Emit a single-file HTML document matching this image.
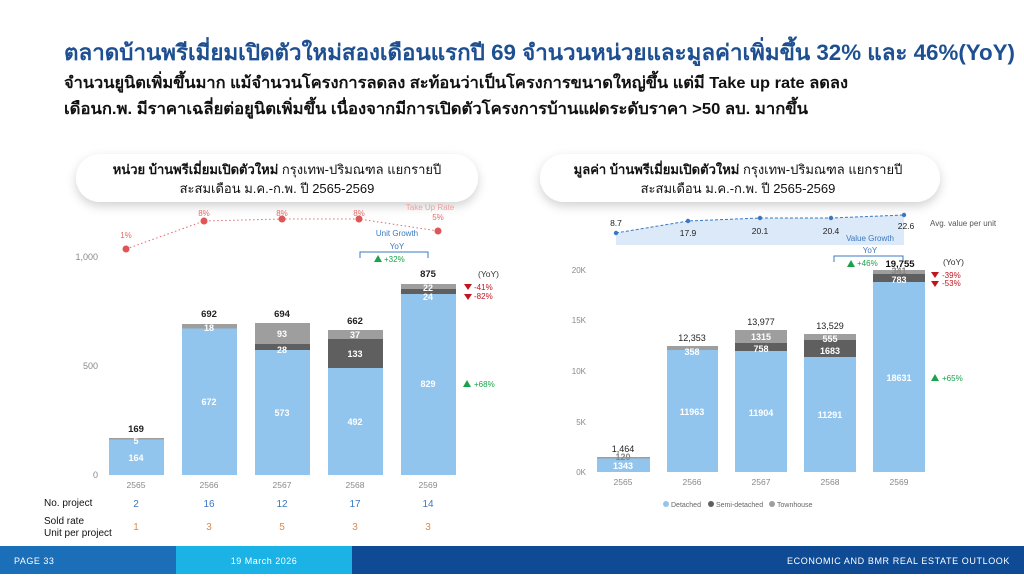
<!DOCTYPE html><html><head><meta charset="utf-8"><style>
body{margin:0;width:1024px;height:574px;overflow:hidden;background:#fff;font-family:"Liberation Sans","DejaVu Sans",sans-serif}
</style></head><body>
<svg width="1024" height="574" viewBox="0 0 1024 574" xmlns="http://www.w3.org/2000/svg" font-family="Liberation Sans, DejaVu Sans, sans-serif">
<defs><filter id="sh" x="-10%" y="-30%" width="120%" height="180%"><feDropShadow dx="0" dy="4" stdDeviation="5" flood-color="#000" flood-opacity="0.18"/></filter></defs>
<text x="64" y="60" font-size="22" fill="#1d4f91" font-weight="bold" textLength="951" lengthAdjust="spacingAndGlyphs">ตลาดบ้านพรีเมี่ยมเปิดตัวใหม่สองเดือนแรกปี 69 จำนวนหน่วยและมูลค่าเพิ่มขึ้น 32% และ 46%(YoY)</text>
<text x="64" y="88" font-size="16" fill="#111" font-weight="bold" textLength="784" lengthAdjust="spacingAndGlyphs">จำนวนยูนิตเพิ่มขึ้นมาก แม้จำนวนโครงการลดลง สะท้อนว่าเป็นโครงการขนาดใหญ่ขึ้น แต่มี Take up rate ลดลง</text>
<text x="64" y="114" font-size="16" fill="#111" font-weight="bold" textLength="744" lengthAdjust="spacingAndGlyphs">เดือนก.พ. มีราคาเฉลี่ยต่อยูนิตเพิ่มขึ้น เนื่องจากมีการเปิดตัวโครงการบ้านแฝดระดับราคา &gt;50 ลบ. มากขึ้น</text>

<rect x="76" y="154" width="402" height="48" rx="24" fill="#fff" filter="url(#sh)"/>
<text x="277" y="174" font-size="13" text-anchor="middle" fill="#111"><tspan font-weight="bold">หน่วย บ้านพรีเมี่ยมเปิดตัวใหม่</tspan> กรุงเทพ-ปริมณฑล แยกรายปี</text>
<text x="277" y="193" font-size="13" text-anchor="middle" fill="#111">สะสมเดือน ม.ค.-ก.พ. ปี 2565-2569</text>
<rect x="540" y="154" width="400" height="48" rx="24" fill="#fff" filter="url(#sh)"/>
<text x="738" y="174" font-size="13" text-anchor="middle" fill="#111"><tspan font-weight="bold">มูลค่า บ้านพรีเมี่ยมเปิดตัวใหม่</tspan> กรุงเทพ-ปริมณฑล แยกรายปี</text>
<text x="738" y="193" font-size="13" text-anchor="middle" fill="#111">สะสมเดือน ม.ค.-ก.พ. ปี 2565-2569</text>

<g font-size="9" fill="#888" text-anchor="end"><text x="98" y="260">1,000</text><text x="98" y="369">500</text><text x="98" y="478">0</text></g>
<polyline points="126,249 204,221 282,219 359,219 438,231" fill="none" stroke="#e36a6a" stroke-dasharray="1.5,2.5" stroke-width="1"/>
<g fill="#e05555"><circle cx="126" cy="249" r="3.5"/><circle cx="204" cy="221" r="3.5"/><circle cx="282" cy="219" r="3.5"/><circle cx="359" cy="219" r="3.5"/><circle cx="438" cy="231" r="3.5"/></g>
<g font-size="8" fill="#e36a6a" text-anchor="middle"><text x="126" y="238">1%</text><text x="204" y="216">8%</text><text x="282" y="216">8%</text><text x="359" y="216">8%</text><text x="438" y="220">5%</text><text x="430" y="210" fill="#eea0a0">Take Up Rate</text></g>
<text x="397" y="236" font-size="8" fill="#3a78c0" text-anchor="middle">Unit Growth</text>
<text x="397" y="249" font-size="8" fill="#3a78c0" text-anchor="middle">YoY</text>
<path d="M360,258 V252 H428 V258" fill="none" stroke="#3a78c0" stroke-width="1"/>
<polygon points="374,262 378,255 382,262" fill="#1aa34a"/><text x="384" y="262" font-size="8" fill="#1aa34a">+32%</text>

<g>
<rect x="109" y="438" width="55" height="37" fill="#92c5ee"/><rect x="109" y="438" width="55" height="1.5" fill="#9e9e9e"/>
<rect x="182" y="328" width="55" height="147" fill="#92c5ee"/><rect x="182" y="324" width="55" height="4.5" fill="#9e9e9e"/>
<rect x="255" y="350" width="55" height="125" fill="#92c5ee"/><rect x="255" y="344" width="55" height="6" fill="#5f5f5f"/><rect x="255" y="323" width="55" height="21" fill="#9e9e9e"/>
<rect x="328" y="368" width="55" height="107" fill="#92c5ee"/><rect x="328" y="339" width="55" height="29" fill="#5f5f5f"/><rect x="328" y="330" width="55" height="9" fill="#9e9e9e"/>
<rect x="401" y="294" width="55" height="181" fill="#92c5ee"/><rect x="401" y="289" width="55" height="5" fill="#5f5f5f"/><rect x="401" y="284" width="55" height="5" fill="#9e9e9e"/>
</g>
<g font-size="9" fill="#fff" text-anchor="middle" font-weight="bold">
<text x="136" y="461">164</text><text x="136" y="444">5</text>
<text x="209" y="405">672</text><text x="209" y="331">18</text>
<text x="282" y="416">573</text><text x="282" y="353">28</text><text x="282" y="337">93</text>
<text x="355" y="425">492</text><text x="355" y="357">133</text><text x="355" y="338">37</text>
<text x="428" y="387">829</text><text x="428" y="300">24</text><text x="428" y="291">22</text>
</g>
<g font-size="9.5" fill="#222" text-anchor="middle" font-weight="bold">
<text x="136" y="432">169</text><text x="209" y="317">692</text><text x="282" y="317">694</text><text x="355" y="324">662</text><text x="428" y="277">875</text></g>
<text x="478" y="277" font-size="8.5" fill="#333">(YoY)</text>
<polygon points="464,284 472,284 468,290" fill="#c0141e"/><text x="474" y="290" font-size="8" fill="#c0141e">-41%</text>
<polygon points="464,294 472,294 468,300" fill="#c0141e"/><text x="474" y="299" font-size="8" fill="#c0141e">-82%</text>
<polygon points="463,387 467,380 471,387" fill="#1aa34a"/><text x="474" y="387" font-size="8" fill="#1aa34a">+68%</text>
<g font-size="8.5" fill="#888" text-anchor="middle"><text x="136" y="488">2565</text><text x="209" y="488">2566</text><text x="282" y="488">2567</text><text x="355" y="488">2568</text><text x="428" y="488">2569</text></g>
<text x="44" y="506" font-size="10" fill="#111">No. project</text>
<text x="44" y="524" font-size="10" fill="#111">Sold rate</text><text x="44" y="536" font-size="10" fill="#111">Unit per project</text>
<g font-size="10" fill="#3a78c0" text-anchor="middle"><text x="136" y="507">2</text><text x="209" y="507">16</text><text x="282" y="507">12</text><text x="355" y="507">17</text><text x="428" y="507">14</text></g>
<g font-size="10" fill="#e08a4a" text-anchor="middle"><text x="136" y="530">1</text><text x="209" y="530">3</text><text x="282" y="530">5</text><text x="355" y="530">3</text><text x="428" y="530">3</text></g>

<polygon points="616,233 688,221 760,218 831,218 904,215 904,245 616,245" fill="#dce9f8"/>
<polyline points="616,233 688,221 760,218 831,218 904,215" fill="none" stroke="#3a78c0" stroke-dasharray="3,2" stroke-width="1"/>
<g fill="#3a78c0"><circle cx="616" cy="233" r="2.2"/><circle cx="688" cy="221" r="2.2"/><circle cx="760" cy="218" r="2.2"/><circle cx="831" cy="218" r="2.2"/><circle cx="904" cy="215" r="2.2"/></g>
<g font-size="8.5" fill="#222" text-anchor="middle"><text x="616" y="226">8.7</text><text x="688" y="236">17.9</text><text x="760" y="234">20.1</text><text x="831" y="234">20.4</text><text x="906" y="229">22.6</text></g>
<text x="930" y="226" font-size="8" fill="#555">Avg. value per unit</text>
<text x="870" y="241" font-size="8" fill="#3a78c0" text-anchor="middle">Value Growth</text>
<text x="870" y="253" font-size="8" fill="#3a78c0" text-anchor="middle">YoY</text>
<path d="M834,262 V256 H903 V262" fill="none" stroke="#3a78c0" stroke-width="1"/>
<polygon points="847,267 851,260 855,267" fill="#1aa34a"/><text x="857" y="266" font-size="8" fill="#1aa34a">+46%</text>
<text x="900" y="267" font-size="9.5" fill="#111" font-weight="bold" text-anchor="middle">19,755</text>
<g font-size="8" fill="#888" text-anchor="end"><text x="586" y="273">20K</text><text x="586" y="323">15K</text><text x="586" y="374">10K</text><text x="586" y="425">5K</text><text x="586" y="475">0K</text></g>
<rect x="597" y="458" width="53" height="14" fill="#92c5ee"/><rect x="597" y="457" width="53" height="1.5" fill="#9e9e9e"/>
<rect x="667" y="350" width="51" height="122" fill="#92c5ee"/><rect x="667" y="346" width="51" height="4" fill="#9e9e9e"/>
<rect x="735" y="351" width="52" height="121" fill="#92c5ee"/><rect x="735" y="343" width="52" height="8" fill="#5f5f5f"/><rect x="735" y="330" width="52" height="13" fill="#9e9e9e"/>
<rect x="804" y="357" width="52" height="115" fill="#92c5ee"/><rect x="804" y="340" width="52" height="17" fill="#5f5f5f"/><rect x="804" y="334" width="52" height="6" fill="#9e9e9e"/>
<rect x="873" y="282" width="52" height="190" fill="#92c5ee"/><rect x="873" y="274" width="52" height="8" fill="#5f5f5f"/><rect x="873" y="270" width="52" height="4" fill="#9e9e9e"/>
<g font-size="9" fill="#fff" text-anchor="middle" font-weight="bold">
<text x="623" y="469">1343</text><text x="623" y="460" fill="#888">120</text>
<text x="692" y="415">11963</text><text x="692" y="355">358</text>
<text x="761" y="416">11904</text><text x="761" y="352">758</text><text x="761" y="340">1315</text>
<text x="830" y="418">11291</text><text x="830" y="354">1683</text><text x="830" y="342">555</text>
<text x="899" y="381">18631</text><text x="899" y="283">783</text><text x="899" y="274" fill="#888">341</text>
</g>
<g font-size="9" fill="#222" text-anchor="middle"><text x="623" y="452">1,464</text><text x="692" y="341">12,353</text><text x="761" y="325">13,977</text><text x="830" y="329">13,529</text></g>
<text x="943" y="265" font-size="8.5" fill="#333">(YoY)</text>
<polygon points="931,272 939,272 935,278" fill="#c0141e"/><text x="942" y="278" font-size="8" fill="#c0141e">-39%</text>
<polygon points="931,281 939,281 935,287" fill="#c0141e"/><text x="942" y="286" font-size="8" fill="#c0141e">-53%</text>
<polygon points="931,381 935,374 939,381" fill="#1aa34a"/><text x="942" y="381" font-size="8" fill="#1aa34a">+65%</text>
<g font-size="8.5" fill="#888" text-anchor="middle"><text x="623" y="485">2565</text><text x="692" y="485">2566</text><text x="761" y="485">2567</text><text x="830" y="485">2568</text><text x="899" y="485">2569</text></g>
<g font-size="7" fill="#666"><circle cx="666" cy="504" r="3" fill="#92c5ee"/><text x="671" y="507">Detached</text><circle cx="711" cy="504" r="3" fill="#5f5f5f"/><text x="716" y="507">Semi-detached</text><circle cx="772" cy="504" r="3" fill="#9e9e9e"/><text x="777" y="507">Townhouse</text></g>

<rect x="0" y="546" width="176" height="28" fill="#1a6fb8"/>
<rect x="176" y="546" width="176" height="28" fill="#1bb3e6"/>
<rect x="352" y="546" width="672" height="28" fill="#0f4b94"/>
<text x="14" y="564" font-size="9" fill="#fff" letter-spacing="0.5">PAGE 33</text>
<text x="264" y="564" font-size="9" fill="#fff" text-anchor="middle" letter-spacing="0.5">19 March 2026</text>
<text x="1010" y="564" font-size="9" fill="#fff" text-anchor="end" letter-spacing="0.6">ECONOMIC AND BMR REAL ESTATE OUTLOOK</text>
</svg>
</body></html>
